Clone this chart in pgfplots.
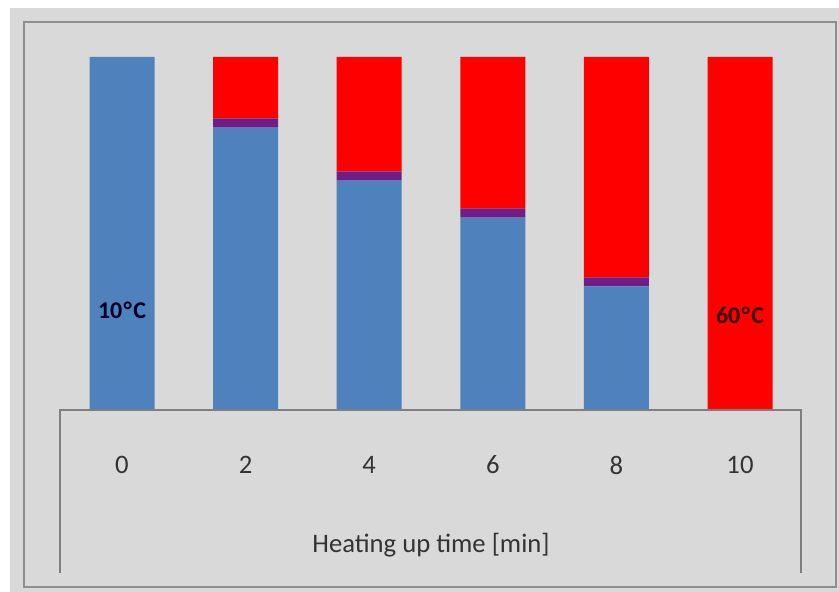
\documentclass[border=0pt]{standalone}
\usepackage{fontspec}
\setmainfont{Carlito}
\usepackage{pgfplots}
\pgfplotsset{compat=1.18}

\definecolor{bg}{HTML}{D9D9D9}
\definecolor{framegray}{HTML}{8E8E8E}
\definecolor{boxgray}{HTML}{7F7F7F}
\definecolor{coldblue}{HTML}{4F81BD}
\definecolor{hotred}{HTML}{FF0000}
\definecolor{mixpurple}{HTML}{6E1E86}
\definecolor{txt}{HTML}{333333}

% time [min], cold part, boundary layer, hot part (percent of bar)
\pgfplotstableread{
t   cold  mix  hot
0   100   0    0
2   80    2.6  17.4
4   65    2.6  32.4
6   54.5  2.6  42.9
8   35    2.6  62.4
10  0     0    100
}\heating

\begin{document}
\begin{tikzpicture}
  % page background and outer frame
  \fill[white] (0,0) rectangle (629.25pt,444pt);
  \fill[bg] (7.5pt,0) rectangle (629.25pt,438pt);
  \draw[framegray, line width=1.5pt] (18pt,3.75pt) rectangle (627pt,427.5pt);

  \begin{axis}[
      at={(45.15pt,136.5pt)}, anchor=south west,
      scale only axis,
      width=556.2pt, height=264.75pt,
      xmin=-1, xmax=11,
      ymin=0, ymax=100,
      ybar stacked,
      bar width=48.75pt,
      axis line style={draw=none},
      ytick=\empty,
      xtick={0,2,4,6,8,10},
      major tick length=0pt,
      /pgf/number format/assume math mode=true,
      xticklabel style={anchor=center, yshift=-41.25pt,
        font=\fontsize{20}{24}\selectfont, text=txt},
      xlabel={Heating up time [min]},
      xlabel style={at={(rel axis cs:0.5,0)}, anchor=center,
        yshift=-101.25pt, font=\fontsize{20}{24}\selectfont, text=txt},
      clip=false,
    ]
    \addplot[fill=coldblue, draw=none] table[x=t, y=cold] {\heating};
    \addplot[fill=mixpurple, draw=none] table[x=t, y=mix] {\heating};
    \addplot[fill=hotred, draw=none] table[x=t, y=hot] {\heating};

    \coordinate (coldlbl) at (axis cs:0,28.3);
    \coordinate (hotlbl) at (axis cs:10,26.9);
  \end{axis}

  % temperature labels on top of the first and last bar
  \node[font=\bfseries\fontsize{18}{20}\selectfont, text=black!85!blue]
    at (coldlbl) {10\kern1pt°\kern1pt C};
  \node[font=\bfseries\fontsize{18}{20}\selectfont, text=black!80!red]
    at (hotlbl) {60\kern1pt°\kern1pt C};

  % box under the bars holding the axis labels
  \draw[boxgray, line width=1.2pt]
    (45pt,14.25pt) -- (45pt,136.5pt) -- (600.75pt,136.5pt) -- (600.75pt,14.25pt);
\end{tikzpicture}
\end{document}
